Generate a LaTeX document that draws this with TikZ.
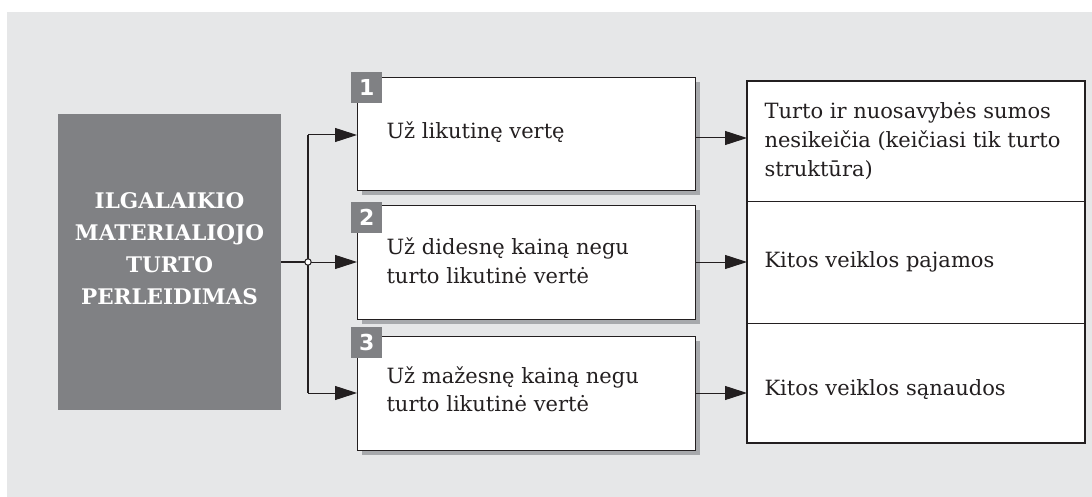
\documentclass[tikz,border=0pt]{standalone}
\usepackage{fontspec}
\setmainfont{DejaVu Serif}
\newfontfamily\badgefont{DejaVu Sans}
\usetikzlibrary{arrows.meta}
\definecolor{bgfill}{HTML}{E6E7E8}
\definecolor{mainfill}{HTML}{808184}
\definecolor{shade}{HTML}{A7A9AC}
\definecolor{edge}{HTML}{231F20}
\tikzset{
  x=1pt, y=-1pt,
  stepbox/.style={draw=edge, line width=1.3pt, fill=white, rectangle, anchor=north west, inner sep=0pt},
  stepshadow/.style={fill=shade, draw=none},
  badge/.style={fill=mainfill, text=white, font=\badgefont\bfseries\fontsize{22}{22}\selectfont, minimum width=31pt, minimum height=31pt, inner sep=0pt, anchor=north west},
  steptext/.style={font=\fontsize{21}{28.5}\selectfont, align=left, anchor=west, text=edge},
  restext/.style={font=\fontsize{21}{29}\selectfont, align=left, anchor=west, text=edge},
  flow/.style={draw=edge, line width=1pt, -{Triangle[length=22pt,width=14pt]}},
  trunk/.style={draw=edge, line width=2pt},
}
\begin{document}
\begin{tikzpicture}
\useasboundingbox (0,0) rectangle (1092,497);
\fill[bgfill] (7,12) rectangle (1092,497);

% source block
\node[fill=mainfill, minimum width=223pt, minimum height=296pt, inner sep=0pt, anchor=north west] (src) at (58,114) {};
\node[text=white, font=\bfseries\fontsize{21.5}{32}\selectfont, align=center] (srctext) at (169.5,249)
  {ILGALAIKIO\\MATERIALIOJO\\TURTO\\PERLEIDIMAS};

% step boxes with shadows
\fill[stepshadow] (362,82) rectangle (700,195);
\fill[stepshadow] (362,210) rectangle (700,324);
\fill[stepshadow] (362,341) rectangle (700,455);
\node[stepbox, minimum width=338pt, minimum height=113pt] (b1) at (357,77) {};
\node[stepbox, minimum width=338pt, minimum height=114pt] (b2) at (357,205) {};
\node[stepbox, minimum width=338pt, minimum height=114pt] (b3) at (357,336) {};

\node[badge] (n1) at (351,72) {1};
\node[badge] (n2) at (351,202) {2};
\node[badge] (n3) at (351,327) {3};

\node[steptext] (t1) at (383,132) {Už likutinę vertę};
\node[steptext] (t2) at (383,261) {Už didesnę kainą negu\\turto likutinė vertė};
\node[steptext] (t3) at (383,389) {Už mažesnę kainą negu\\turto likutinė vertė};

% result table
\draw[edge, line width=1.3pt, fill=white] (747,81) rectangle (1085,443);
\draw[edge, line width=1pt] (747,202) -- (1085,202);
\draw[edge, line width=1pt] (747,323) -- (1085,323);
\coordinate (r1) at (747,138);
\coordinate (r2) at (747,262);
\coordinate (r3) at (747,393);
\node[restext] (q1) at (761,141) {Turto ir nuosavybės sumos\\nesikeičia (keičiasi tik turto\\struktūra)};
\node[restext] (q2) at (761,262) {Kitos veiklos pajamos};
\node[restext] (q3) at (761,390) {Kitos veiklos sąnaudos};

% branching connectors
\coordinate (jn) at (308,262);
\coordinate (jtop) at (308,135);
\coordinate (jbot) at (308,393);
\draw[trunk] (src.east |- jn) -- (jn);
\draw[trunk] (jtop) -- (jbot);
\draw[flow] (jtop) -- (b1.west |- jtop);
\draw[flow] (jn) -- (b2.west |- jn);
\draw[flow] (jbot) -- (b3.west |- jbot);
\draw[edge, line width=1pt, fill=white] (jn) circle (3.2pt);

\draw[flow] (b1.east |- r1) -- (r1);
\draw[flow] (b2.east |- r2) -- (r2);
\draw[flow] (b3.east |- r3) -- (r3);
\end{tikzpicture}
\end{document}
